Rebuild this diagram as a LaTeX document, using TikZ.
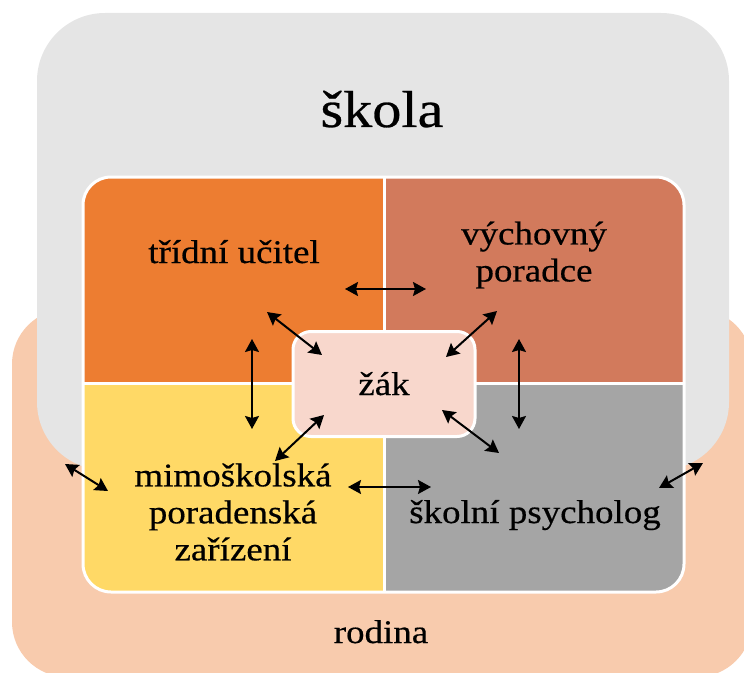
\documentclass[tikz,border=0pt]{standalone}
\usepackage{fontspec}
\setmainfont{Liberation Serif}[FakeStretch=1.12,FakeBold=0.5]
\usetikzlibrary{arrows.meta}
\definecolor{outergray}{HTML}{E5E5E5}
\definecolor{peach}{HTML}{F8CBAD}
\definecolor{qorange}{HTML}{ED7D31}
\definecolor{qterra}{HTML}{D27A5C}
\definecolor{qyellow}{HTML}{FFD966}
\definecolor{qgray}{HTML}{A5A5A5}
\definecolor{pupil}{HTML}{F8D7CC}
\tikzset{
  lbl/.style={font=\fontsize{33bp}{37bp}\selectfont, align=center, inner sep=0pt},
  big/.style={font=\fontsize{52bp}{60bp}\selectfont, inner sep=0pt},
  dbl/.style={line width=2bp, {Stealth[length=13bp,width=14bp,inset=2bp]}-{Stealth[length=13bp,width=14bp,inset=2bp]}},
  divider/.style={white, line width=3bp}
}
\begin{document}
\begin{tikzpicture}[x=1bp,y=-1bp]
\useasboundingbox (0,0) rectangle (744,673);
\clip (0,0) rectangle (744,673);
% family (rodina) and school (skola) areas
\fill[peach, rounded corners=55bp] (12,309) rectangle (752,677);
\fill[outergray, rounded corners=68bp] (37,13) rectangle (729,470);
% four quadrants
\begin{scope}
  \clip[rounded corners=28bp] (83,177) rectangle (684,592);
  \fill[qorange] (83,177) rectangle (384,383);
  \fill[qterra] (384,177) rectangle (684,383);
  \fill[qyellow] (83,383) rectangle (384,592);
  \fill[qgray] (384,383) rectangle (684,592);
\end{scope}
\draw[divider] (384,177) -- (384,592);
\draw[divider] (83,383) -- (684,383);
\draw[white, line width=3bp, rounded corners=28bp] (83,177) rectangle (684,592);
% pupil box
\node[draw=white, line width=3bp, fill=pupil, rounded corners=18bp,
      minimum width=182bp, minimum height=105bp, inner sep=0pt] (zak) at (384,384) {};
% labels
\node[big, anchor=base] (skola) at (382,127) {škola};
\node[lbl, anchor=base] (ucitel) at (234,263) {třídní učitel};
\node[lbl] (poradce) at (534,255) {výchovný\\poradce};
\node[lbl, anchor=base] (zaktxt) at (384,395) {žák};
\node[lbl] (mimo) at (233,512) {mimoškolská\\poradenská\\zařízení};
\node[lbl, anchor=base] (psych) at (535,523) {školní psycholog};
\node[lbl, anchor=base] (rodina) at (381,643) {rodina};
% arrow end points
\coordinate (t1) at (345,289); \coordinate (t2) at (426,289);
\coordinate (a1) at (267,312); \coordinate (a2) at (322,355);
\coordinate (b1) at (497,311); \coordinate (b2) at (446,357);
\coordinate (c1) at (252,339); \coordinate (c2) at (252,429);
\coordinate (d1) at (519,339); \coordinate (d2) at (519,429);
\coordinate (e1) at (324,415); \coordinate (e2) at (275,461);
\coordinate (f1) at (442,410); \coordinate (f2) at (499,453);
\coordinate (g1) at (348,487); \coordinate (g2) at (431,487);
\coordinate (h1) at (65,464);  \coordinate (h2) at (108,491);
\coordinate (k1) at (703,463); \coordinate (k2) at (659,488);
\draw[dbl] (t1) -- (t2);
\draw[dbl] (a1) -- (a2);
\draw[dbl] (b1) -- (b2);
\draw[dbl] (c1) -- (c2);
\draw[dbl] (d1) -- (d2);
\draw[dbl] (e1) -- (e2);
\draw[dbl] (f1) -- (f2);
\draw[dbl] (g1) -- (g2);
\draw[dbl] (h1) -- (h2);
\draw[dbl] (k1) -- (k2);
\end{tikzpicture}
\end{document}
